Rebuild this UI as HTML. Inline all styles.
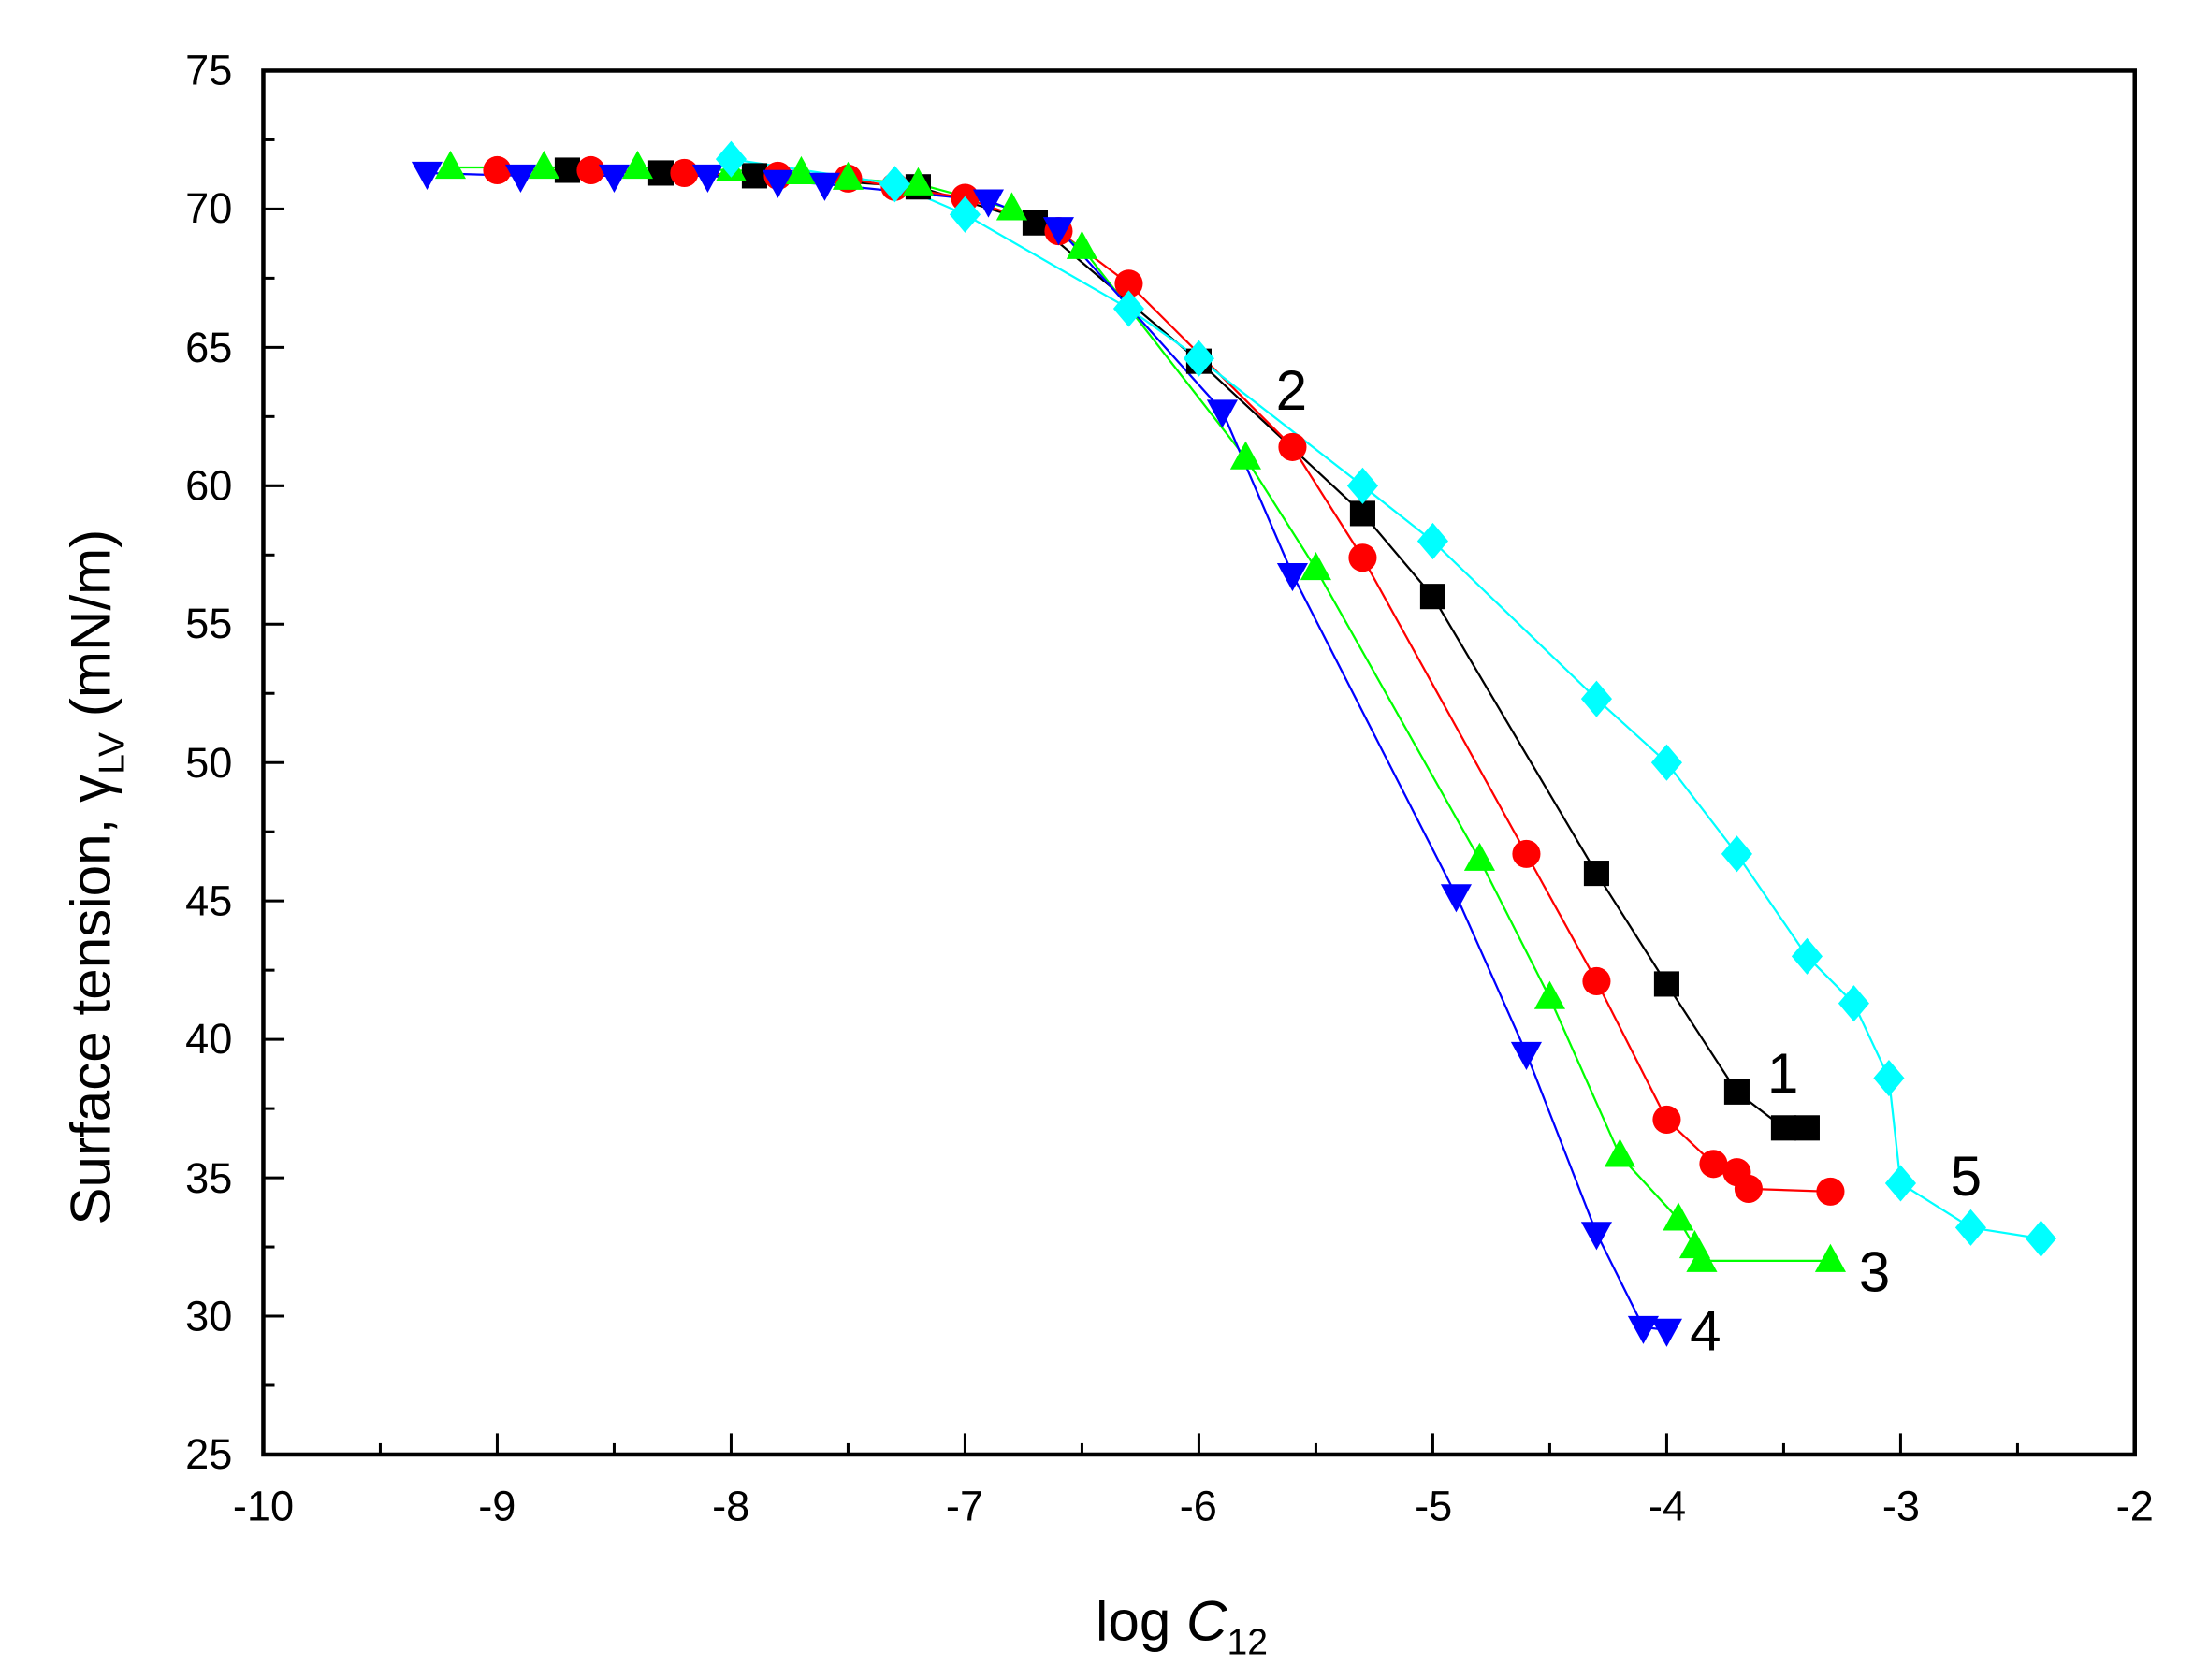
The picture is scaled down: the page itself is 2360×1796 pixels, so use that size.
<!DOCTYPE html>
<html><head><meta charset="utf-8"><style>
html,body{margin:0;padding:0;background:#fff;}
svg{display:block;}
text{font-family:"Liberation Sans",Arial,sans-serif;fill:#000;}
</style></head><body>
<svg id="s" width="2360" height="1796" viewBox="0 0 1568 1193" xmlns="http://www.w3.org/2000/svg">
<rect width="1568" height="1193" fill="#fff"/>
<g id="ticks" stroke="#000" stroke-width="2"></g>
<g id="data"></g>
<rect x="187" y="50" width="1329" height="983" fill="none" stroke="#000" stroke-width="3"/>
<g font-size="30" text-anchor="end">
<text x="165" y="60">75</text><text x="165" y="158">70</text><text x="165" y="257">65</text>
<text x="165" y="355">60</text><text x="165" y="453">55</text><text x="165" y="552">50</text>
<text x="165" y="650">45</text><text x="165" y="748">40</text><text x="165" y="847">35</text>
<text x="165" y="945">30</text><text x="165" y="1043">25</text>
</g>
<g font-size="30" text-anchor="middle">
<text x="187" y="1080">-10</text><text x="353" y="1080">-9</text><text x="519" y="1080">-8</text>
<text x="685" y="1080">-7</text><text x="851" y="1080">-6</text><text x="1018" y="1080">-5</text>
<text x="1184" y="1080">-4</text><text x="1350" y="1080">-3</text><text x="1516" y="1080">-2</text>
</g>
<text x="778" y="1165" font-size="40">log <tspan font-style="italic">C</tspan><tspan font-size="26" dy="10">12</tspan></text>
<text transform="translate(78,870) rotate(-90)" font-size="40">Surface tension, γ<tspan font-size="26" dy="10">LV</tspan><tspan dy="-10"> (mN/m)</tspan></text>
<g font-size="40">
<text x="1255" y="776">1</text><text x="906" y="291">2</text><text x="1320" y="917">3</text>
<text x="1200" y="959">4</text><text x="1385" y="849">5</text>
</g>
</svg>
<script>
const X=v=>187+(v+10)*166.1, Y=v=>50+(75-v)*19.66;
const NS="http://www.w3.org/2000/svg";
const tk=document.getElementById('ticks');
function ln(g,x1,y1,x2,y2,c,w){const l=document.createElementNS(NS,'line');l.setAttribute('x1',x1);l.setAttribute('y1',y1);l.setAttribute('x2',x2);l.setAttribute('y2',y2);if(c)l.setAttribute('stroke',c);if(w)l.setAttribute('stroke-width',w);g.appendChild(l);}
for(let v=25;v<=75;v+=2.5){const m=(v%5===0);ln(tk,187,Y(v),187+(m?15:8),Y(v));}
for(let v=-10;v<=-2;v+=0.5){const m=(v%1===0);ln(tk,X(v),1033,X(v),1033-(m?15:8));}
const S=[
['#000','sq',[[-8.7,71.4],[-8.3,71.3],[-7.9,71.2],[-7.2,70.8],[-6.7,69.5],[-6,64.5],[-5.3,59],[-5,56],[-4.3,46],[-4,42],[-3.7,38.1],[-3.5,36.8],[-3.4,36.8]]],
['#f00','ci',[[-9,71.4],[-8.6,71.4],[-8.2,71.3],[-7.8,71.2],[-7.5,71.1],[-7.3,70.8],[-7,70.4],[-6.6,69.2],[-6.3,67.3],[-5.6,61.4],[-5.3,57.4],[-4.6,46.7],[-4.3,42.1],[-4,37.1],[-3.8,35.5],[-3.7,35.2],[-3.65,34.6],[-3.3,34.5]]],
['#0f0','up',[[-9.2,71.5],[-8.8,71.5],[-8.4,71.5],[-8,71.4],[-7.7,71.3],[-7.5,71.1],[-7.2,70.9],[-6.8,70],[-6.5,68.6],[-5.8,61],[-5.5,57],[-4.8,46.5],[-4.5,41.5],[-4.2,35.8],[-3.95,33.5],[-3.88,32.5],[-3.85,32],[-3.3,32]]],
['#00f','dn',[[-9.3,71.3],[-8.9,71.2],[-8.5,71.2],[-8.1,71.2],[-7.8,71],[-7.6,70.9],[-6.9,70.3],[-6.6,69.3],[-5.9,62.7],[-5.6,56.8],[-4.9,45.2],[-4.6,39.5],[-4.3,33],[-4.1,29.6],[-4,29.5]]],
['#0ff','di',[[-8,71.8],[-7.3,70.9],[-7,69.8],[-6.3,66.4],[-6,64.6],[-5.3,60],[-5,58],[-4.3,52.3],[-4,50],[-3.7,46.7],[-3.4,43],[-3.2,41.3],[-3.05,38.6],[-3,34.8],[-2.7,33.2],[-2.4,32.8]]]
];
const dg=document.getElementById('data');
S.forEach(([c,m,p])=>{
 const pl=document.createElementNS(NS,'polyline');
 pl.setAttribute('points',p.map(q=>X(q[0])+','+Y(q[1])).join(' '));
 pl.setAttribute('fill','none');pl.setAttribute('stroke',c);pl.setAttribute('stroke-width','1.5');dg.appendChild(pl);
});
S.forEach(([c,m,p])=>{
 p.forEach(q=>{const x=X(q[0]),y=Y(q[1]);let e;
  if(m==='sq'){e=document.createElementNS(NS,'rect');e.setAttribute('x',x-9);e.setAttribute('y',y-9);e.setAttribute('width',18);e.setAttribute('height',18);}
  else if(m==='ci'){e=document.createElementNS(NS,'circle');e.setAttribute('cx',x);e.setAttribute('cy',y);e.setAttribute('r',10);}
  else{e=document.createElementNS(NS,'polygon');let pts;
   if(m==='up')pts=[[x,y-12],[x+11,y+8],[x-11,y+8]];
   else if(m==='dn')pts=[[x,y+12],[x+11,y-8],[x-11,y-8]];
   else pts=[[x,y-13],[x+11,y],[x,y+13],[x-11,y]];
   e.setAttribute('points',pts.map(a=>a.join(',')).join(' '));}
  e.setAttribute('fill',c);dg.appendChild(e);});
});
</script>
</body></html>
